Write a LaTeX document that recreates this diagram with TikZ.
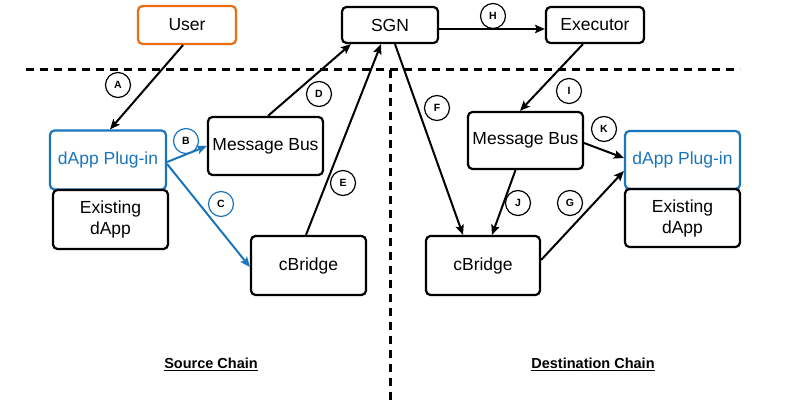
\documentclass[tikz,border=0pt]{standalone}
\usepackage{fontspec}
\setmainfont{Liberation Sans}
\usetikzlibrary{arrows.meta}
\definecolor{cblue}{RGB}{27,117,187}
\definecolor{corange}{RGB}{235,110,20}
\tikzset{
  box/.style={draw=black, line width=2.2pt, rounded corners=4.5pt, align=center, inner sep=0pt, font=\fontsize{17.5}{21}\selectfont},
  lbl/.style={draw=black, circle, line width=1.2pt, minimum size=25pt, inner sep=0pt, font=\bfseries\fontsize{10.5}{10.5}\selectfont},
  conn/.style={line width=2pt, -{Stealth[length=10pt,width=8.5pt,inset=2pt]}},
  sep/.style={line width=3pt, dash pattern=on 8pt off 6pt},
  chain/.style={font=\bfseries\fontsize{14.5}{16}\selectfont}
}
\begin{document}
\begin{tikzpicture}[x=1pt,y=-1pt]
\useasboundingbox (0,0) rectangle (785,403);
% separators
\coordinate (hl) at (26,70);
\coordinate (hr) at (740,70);
\coordinate (vt) at (390,70);
\coordinate (vb) at (390,403);
\draw[sep] (hl) -- (hr);
\draw[sep] (vt) -- (vb);
% boxes
\node[box, draw=corange, minimum width=98pt, minimum height=38pt] (user) at (187,25) {User};
\node[box, minimum width=96pt, minimum height=36pt] (sgn) at (390,25) {SGN};
\node[box, minimum width=98pt, minimum height=36pt] (exec) at (595,25) {Executor};
\node[box, draw=cblue, text=cblue, minimum width=116pt, minimum height=59pt] (plugL) at (108,160) {dApp Plug-in};
\node[box, minimum width=115pt, minimum height=59pt] (existL) at (110.5,219.5) {Existing\\dApp};
\node[box, minimum width=115pt, minimum height=58pt] (mbL) at (265.5,146) {Message Bus};
\node[box, minimum width=115pt, minimum height=59pt] (cbL) at (308.5,265.5) {cBridge};
\node[box, minimum width=115pt, minimum height=57pt] (mbR) at (525.5,140.5) {Message Bus};
\node[box, minimum width=114pt, minimum height=59pt] (cbR) at (483,265.5) {cBridge};
\node[box, draw=cblue, text=cblue, minimum width=115pt, minimum height=58pt] (plugR) at (682.5,160) {dApp Plug-in};
\node[box, minimum width=115pt, minimum height=58pt] (existR) at (682.5,218) {Existing\\dApp};
% connectors
\draw[conn] ([xshift=-4pt]user.south) -- ([xshift=2pt]plugL.north);
\draw[conn, cblue] ([yshift=-2pt]plugL.east) -- (mbL.west);
\draw[conn, cblue] ([yshift=-4pt]plugL.east) -- ([yshift=-1.5pt]cbL.west);
\draw[conn] ([xshift=2.5pt]mbL.north) -- ([xshift=10pt]sgn.south west);
\draw[conn] ([xshift=-2.5pt]cbL.north) -- ([xshift=-9pt]sgn.south);
\draw[conn] ([xshift=5pt]sgn.south) -- ([xshift=-20pt]cbR.north);
\draw[conn] ([yshift=-4pt]sgn.east) -- ([yshift=-4pt]exec.west);
\draw[conn] ([xshift=-12pt]exec.south) -- ([xshift=-5.5pt]mbR.north);
\draw[conn] ([xshift=-10pt]mbR.south) -- ([xshift=9pt]cbR.north);
\draw[conn] ([yshift=-2.5pt]mbR.east) -- ([yshift=2pt]plugR.west);
\draw[conn] ([yshift=5.5pt]cbR.east) -- ([yshift=-11pt]plugR.west);
% labels
\node[lbl] (la) at (118,85) {A};
\node[lbl, draw=cblue] (lb) at (186,141) {B};
\node[lbl, draw=cblue] (lc) at (221,204) {C};
\node[lbl] (ld) at (319,94) {D};
\node[lbl] (le) at (343,183) {E};
\node[lbl] (lf) at (437,108) {F};
\node[lbl] (lh) at (493,16) {H};
\node[lbl] (li) at (569,91) {I};
\node[lbl] (lk) at (604,129) {K};
\node[lbl] (lj) at (518,203) {J};
\node[lbl] (lg) at (570,203) {G};
% chain titles
\node[chain] (src) at (211,364) {\underline{Source Chain}};
\node[chain] (dst) at (593,364) {\underline{Destination Chain}};
\end{tikzpicture}
\end{document}
